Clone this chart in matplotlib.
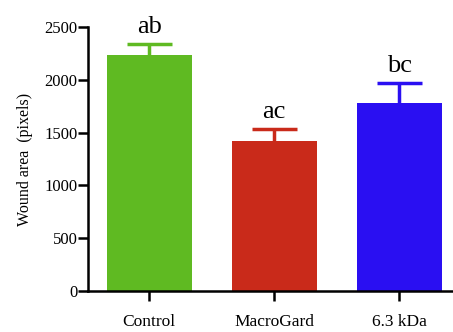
import numpy as np
import matplotlib.pyplot as plt

plt.rcParams['font.family'] = ['Liberation Serif', 'DejaVu Serif']

# Wound area per treatment (mean and error)
groups = ['Control', 'MacroGard', '6.3 kDa']
means = [2235, 1423, 1777]
errors = [104, 111, 190]
letters = ['ab', 'ac', 'bc']
colors = ['#5fba22', '#c92a1a', '#2a0ff2']

fig = plt.figure(figsize=(4.53, 3.32), dpi=100)
ax = fig.add_axes([88 / 453, 41 / 332, 365 / 453, 264 / 332])

x = np.arange(len(groups))
ax.bar(x, means, width=0.68, color=colors, zorder=2)
tops = np.array(means) + np.array(errors)
ax.vlines(x, means, tops, colors=colors, linewidth=2.5, zorder=1)
ax.hlines(tops, x - 0.18, x + 0.18, colors=colors, linewidth=2.5, zorder=1)

for xi, t, lab in zip(x, tops, letters):
    ax.text(xi, t + 60, lab, ha='center', va='bottom', fontsize=19)

ax.set_xlim(-0.49, 2.43)
ax.set_ylim(0, 2500)
ax.set_yticks([0, 500, 1000, 1500, 2000, 2500])
ax.set_xticks(x)
ax.set_xticklabels(groups, fontsize=12.5)
ax.tick_params(axis='y', labelsize=12, width=1.8, length=7.5, pad=0)
ax.tick_params(axis='x', width=1.8, length=7.5, pad=9)
ax.set_ylabel('Wound area  (pixels)', fontsize=11.5, labelpad=8)

for s in ['top', 'right']:
    ax.spines[s].set_visible(False)
for s in ['left', 'bottom']:
    ax.spines[s].set_linewidth(1.8)

fig.savefig('out.png', dpi=100)
